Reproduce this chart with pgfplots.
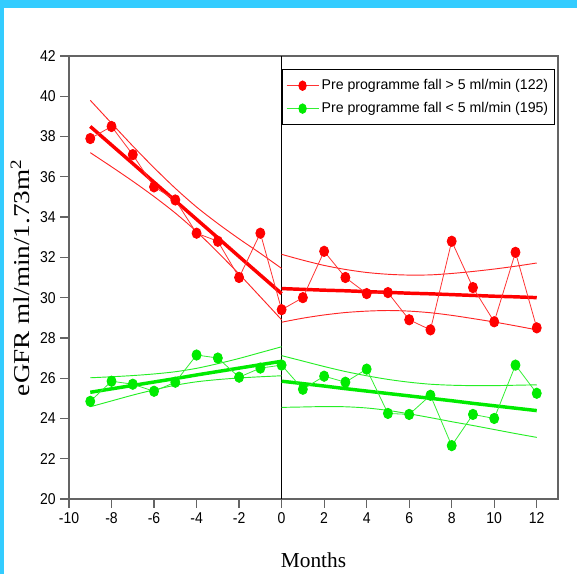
\documentclass[border=0pt]{standalone}
\usepackage{pgfplots}
\pgfplotsset{compat=1.18}
\usepackage{pgfplotstable}
\usepackage{fontspec}
\setmainfont{Liberation Sans}
\newfontfamily\seriffont{Liberation Serif}
\definecolor{slide}{RGB}{51,204,255}
\definecolor{gr}{RGB}{0,235,0}
\definecolor{axgray}{RGB}{100,100,100}

% observed means, months -9..12
\pgfplotstableread{
x y
-9 37.9
-8 38.5
-7 37.1
-6 35.5
-5 34.85
-4 33.2
-3 32.8
-2 31.0
-1 33.2
0 29.4
1 30.0
2 32.3
3 31.0
4 30.2
5 30.25
6 28.9
7 28.4
8 32.8
9 30.5
10 28.8
11 32.25
12 28.5
}\reddata
\pgfplotstableread{
x y
-9 24.85
-8 25.85
-7 25.7
-6 25.35
-5 25.8
-4 27.15
-3 27.0
-2 26.05
-1 26.5
0 26.65
1 25.45
2 26.1
3 25.8
4 26.45
5 24.25
6 24.2
7 25.15
8 22.65
9 24.2
10 24.0
11 26.65
12 25.25
}\grdata

% fitted lines with confidence limits
\pgfplotstableread{
x fit lo hi
-9 38.50 37.20 39.80
-8 37.58 36.50 38.66
-7 36.66 35.78 37.53
-6 35.73 35.02 36.45
-5 34.81 34.20 35.43
-4 33.89 33.28 34.50
-3 32.97 32.25 33.68
-2 32.04 31.17 32.92
-1 31.12 30.04 32.20
0 30.20 28.90 31.45
}\redpre
\pgfplotstableread{
x fit lo hi
0 30.45 28.78 32.15
1 30.41 28.98 31.86
2 30.37 29.14 31.60
3 30.34 29.26 31.40
4 30.30 29.33 31.25
5 30.26 29.36 31.16
6 30.22 29.33 31.12
7 30.19 29.25 31.13
8 30.15 29.12 31.20
9 30.11 28.96 31.30
10 30.07 28.79 31.42
11 30.04 28.60 31.56
12 30.00 28.40 31.72
}\redpost
\pgfplotstableread{
x fit lo hi
-9 25.30 24.58 26.02
-8 25.47 24.87 26.07
-7 25.64 25.16 26.13
-6 25.81 25.42 26.21
-5 25.98 25.65 26.32
-4 26.16 25.82 26.49
-3 26.33 25.93 26.72
-2 26.50 26.01 26.98
-1 26.67 26.07 27.27
0 26.84 26.12 27.56
}\grpre
\pgfplotstableread{
x fit lo hi
0 25.85 24.55 27.12
1 25.73 24.57 26.85
2 25.61 24.59 26.58
3 25.48 24.58 26.33
4 25.36 24.52 26.12
5 25.24 24.40 25.94
6 25.12 24.23 25.80
7 25.00 24.04 25.70
8 24.88 23.84 25.65
9 24.75 23.65 25.63
10 24.63 23.45 25.63
11 24.51 23.25 25.65
12 24.39 23.06 25.67
}\grpost

\begin{document}
\begin{tikzpicture}
\useasboundingbox (0,0) rectangle (432.75pt,430.5pt);
\fill[slide] (0,424.5pt) rectangle (432.75pt,430.5pt);
\fill[slide] (0,0) rectangle (3pt,430.5pt);
\begin{axis}[
  at={(51.75pt,56.25pt)}, anchor=south west,
  scale only axis, width=366.75pt, height=332.25pt,
  xmin=-10, xmax=13, ymin=20, ymax=42,
  xtick={-10,-8,...,12}, ytick={20,22,...,42},
  tick align=outside, xtick pos=bottom, ytick pos=left,
  major tick length=6.5pt,
  axis line style={axgray, line width=1pt},
  tick style={axgray, line width=0.9pt},
  ticklabel style={font=\fontsize{10.5}{12}\selectfont, yscale=1.12},
  /pgf/number format/assume math mode=true,
  xlabel={Months},
  ylabel={eGFR ml/min/1.73m\textsuperscript{2}},
  every axis x label/.style={at={(axis description cs:0.5,-0.1377)}, anchor=center,
    font=\seriffont\fontsize{16}{18}\selectfont},
  every axis y label/.style={at={(axis description cs:-0.100,0.5)}, rotate=90, xscale=1.2,
    anchor=center, font=\seriffont\fontsize{17}{19}\selectfont},
  legend style={at={(0.4348,0.9705)}, anchor=north west, draw=black, line width=0.8pt,
    font=\fontsize{10.6}{12.4}\selectfont, cells={anchor=west, yscale=1.12},
    inner xsep=3pt, inner ysep=5.5pt, row sep=4pt},
  legend image code/.code={\draw[mark repeat=2,mark phase=2,#1,mark size=2.8pt]
    plot coordinates {(0pt,0pt)(12pt,0pt)(24pt,0pt)};},
]
\addplot[black, line width=0.75pt, forget plot] coordinates {(0,20)(0,42)};

\addplot[red!85, line width=0.7pt, smooth, forget plot] table[y=lo] {\redpre};
\addplot[red!85, line width=0.7pt, smooth, forget plot] table[y=hi] {\redpre};
\addplot[red, line width=2.6pt, forget plot] table[y=fit] {\redpre};
\addplot[red!85, line width=0.7pt, smooth, forget plot] table[y=lo] {\redpost};
\addplot[red!85, line width=0.7pt, smooth, forget plot] table[y=hi] {\redpost};
\addplot[red, line width=2.6pt, forget plot] table[y=fit] {\redpost};

\addplot[gr!85, line width=0.7pt, smooth, forget plot] table[y=lo] {\grpre};
\addplot[gr!85, line width=0.7pt, smooth, forget plot] table[y=hi] {\grpre};
\addplot[gr, line width=2.6pt, forget plot] table[y=fit] {\grpre};
\addplot[gr!85, line width=0.7pt, smooth, forget plot] table[y=lo] {\grpost};
\addplot[gr!85, line width=0.7pt, smooth, forget plot] table[y=hi] {\grpost};
\addplot[gr, line width=2.6pt, forget plot] table[y=fit] {\grpost};

\addplot[red!80, line width=0.6pt, mark=*, mark size=3.4pt,
  mark options={fill=red, draw=red, yscale=1.15}] table {\reddata};
\addlegendentry{Pre programme fall > 5 ml/min (122)}
\addplot[gr!80, line width=0.6pt, mark=*, mark size=3.4pt,
  mark options={fill=gr, draw=gr, yscale=1.15}] table {\grdata};
\addlegendentry{Pre programme fall < 5 ml/min (195)}
\end{axis}
\end{tikzpicture}
\end{document}
